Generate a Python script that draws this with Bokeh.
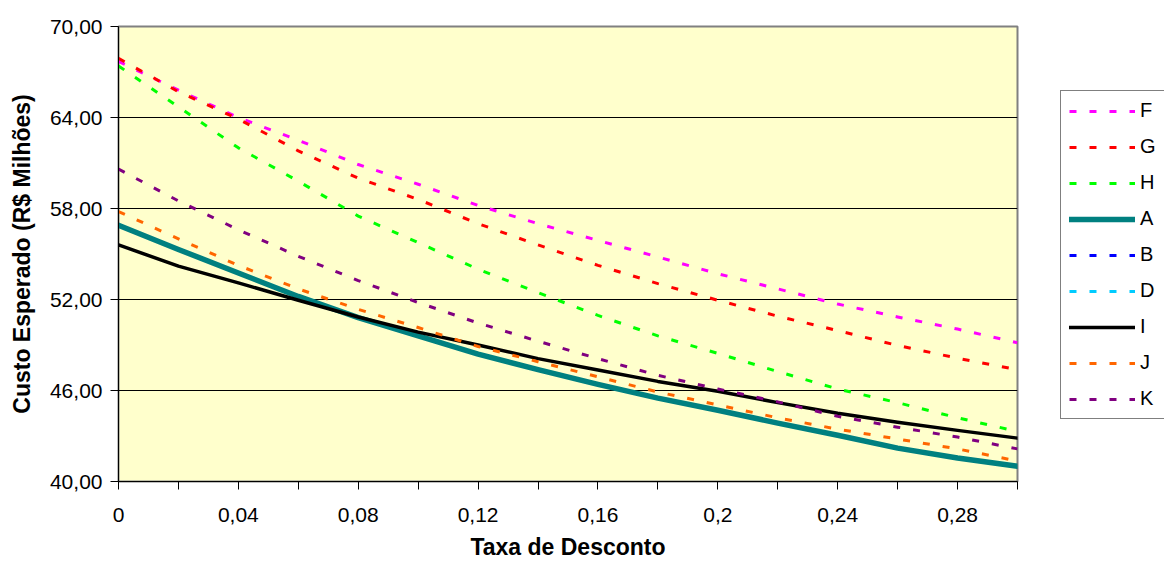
from bokeh.plotting import figure
from bokeh.layouts import row
from bokeh.models import (FixedTicker, Legend, LegendItem, Range1d,
                          CustomJSTickFormatter)
from bokeh.embed import file_html
from bokeh.resources import INLINE

nan = float("nan")

# ---- data -------------------------------------------------------------
taxa = [0.00, 0.02, 0.04, 0.06, 0.08, 0.10, 0.12, 0.14,
        0.16, 0.18, 0.20, 0.22, 0.24, 0.26, 0.28, 0.30]

F = [67.7, 65.8, 64.0, 62.5, 60.9, 59.6, 58.2, 57.0,
     55.9, 54.8, 53.7, 52.7, 51.7, 50.85, 50.05, 49.15]
G = [67.9, 65.7, 63.9, 61.8, 60.0, 58.6, 57.0, 55.6,
     54.25, 53.05, 51.95, 50.9, 49.95, 48.97, 48.13, 47.37]
H = [67.4, 64.7, 62.0, 59.8, 57.5, 55.75, 54.0, 52.45,
     50.95, 49.6, 48.45, 47.25, 46.1, 45.2, 44.2, 43.3]
A = [56.9, 55.3, 53.75, 52.2, 50.8, 49.6, 48.4, 47.38,
     46.4, 45.5, 44.7, 43.85, 43.05, 42.2, 41.55, 41.0]
# B and D appear only in the legend (no visible line in the chart)
B = [nan, nan, nan, nan, nan, nan, nan, nan,
     nan, nan, nan, nan, nan, nan, nan, nan]
D = [nan, nan, nan, nan, nan, nan, nan, nan,
     nan, nan, nan, nan, nan, nan, nan, nan]
I = [55.6, 54.2, 53.1, 51.95, 50.85, 49.85, 49.0, 48.1,
     47.35, 46.6, 45.95, 45.2, 44.5, 43.9, 43.37, 42.86]
J = [57.8, 56.0, 54.25, 52.7, 51.35, 50.15, 48.9, 47.9,
     46.9, 45.9, 45.05, 44.2, 43.45, 42.8, 42.15, 41.35]
K = [60.6, 58.5, 56.6, 54.85, 53.25, 51.8, 50.45, 49.25,
     48.1, 47.0, 46.1, 45.25, 44.3, 43.58, 42.93, 42.15]

series_names = ["F", "G", "H", "A", "B", "D", "I", "J", "K"]
series_values = [F, G, H, A, B, D, I, J, K]
series_colors = ["#FF00FF", "#FF0000", "#00FF00", "#008080", "#0000FF",
                 "#00CCFF", "#000000", "#FF6600", "#800080"]
series_dashed = [True, True, True, False, True, True, False, True, True]
series_widths = [3, 3, 3, 5.5, 3, 3, 3.5, 3, 3]

x_major = [0.00, 0.04, 0.08, 0.12, 0.16, 0.20, 0.24, 0.28]
x_minor = [0.02, 0.06, 0.10, 0.14, 0.18, 0.22, 0.26, 0.30]
y_ticks = [40, 46, 52, 58, 64, 70]

FONT = "Liberation Sans"


def style_of(dashed):
    return dict(line_dash="7 13" if dashed else "solid",
                line_cap="butt" if dashed else "round",
                line_join="round")


# ---- main figure ------------------------------------------------------
p = figure(width=1060, height=565, output_backend="svg", toolbar_location=None,
           x_range=Range1d(0, 0.30), y_range=Range1d(40, 70),
           min_border_left=118, min_border_right=43,
           min_border_top=26, min_border_bottom=84)
p.background_fill_color = "#FFFFCC"
p.border_fill_color = "white"
p.outline_line_color = "#808080"
p.outline_line_width = 2

p.xgrid.visible = False
p.ygrid.ticker = FixedTicker(ticks=y_ticks)
p.ygrid.grid_line_color = "black"
p.ygrid.grid_line_width = 1

xa = p.xaxis[0]
xa.ticker = FixedTicker(ticks=x_major, minor_ticks=x_minor)
xa.formatter = CustomJSTickFormatter(code="""
var v = Math.round(tick * 100) / 100;
return v.toString().replace('.', ',');
""")
xa.axis_label = "Taxa de Desconto"
for ax in (p.xaxis[0], p.yaxis[0]):
    ax.axis_line_color = "black"
    ax.axis_line_width = 1
    ax.major_tick_line_color = "black"
    ax.minor_tick_line_color = "black"
    ax.major_tick_in = 0
    ax.major_tick_out = 8
    ax.major_label_text_font = FONT
    ax.major_label_text_font_size = "21px"
    ax.major_label_text_color = "black"
    ax.axis_label_text_font = FONT
    ax.axis_label_text_font_size = "23px"
    ax.axis_label_text_font_style = "bold"
    ax.axis_label_text_color = "black"
xa.minor_tick_in = 0
xa.minor_tick_out = 8
xa.major_label_standoff = 18
xa.axis_label_standoff = 9

ya = p.yaxis[0]
ya.ticker = FixedTicker(ticks=y_ticks, minor_ticks=[])
ya.formatter = CustomJSTickFormatter(code="""
return tick.toFixed(2).replace('.', ',');
""")
ya.axis_label = "Custo Esperado (R$ Milhões)"
ya.major_label_standoff = 8
ya.axis_label_standoff = 12

for name, vals, col, dashed, w in zip(series_names, series_values, series_colors,
                                      series_dashed, series_widths):
    p.line(taxa, vals, line_color=col, line_width=w, **style_of(dashed))

# ---- legend panel (separate narrow figure to the right) ---------------
lg = figure(width=104, height=565, output_backend="svg", toolbar_location=None,
            x_range=Range1d(0, 1), y_range=Range1d(0, 1),
            x_axis_location=None, y_axis_location=None,
            min_border_left=0, min_border_right=0,
            min_border_top=26, min_border_bottom=84)
lg.grid.visible = False
lg.outline_line_color = None
lg.background_fill_color = "white"
lg.border_fill_color = "white"

items = []
for name, vals, col, dashed, w in zip(series_names, series_values, series_colors,
                                      series_dashed, series_widths):
    # same series on this panel's own (non-overlapping) scale:
    # only the legend samples are visible here
    r = lg.line(taxa, vals, line_color=col, line_width=w, **style_of(dashed))
    items.append(LegendItem(label=name, renderers=[r]))

legend = Legend(items=items, location=(0, 62))
legend.border_line_color = "black"
legend.border_line_width = 1
legend.background_fill_color = "white"
legend.background_fill_alpha = 1
legend.label_text_font = FONT
legend.label_text_font_size = "20px"
legend.label_text_color = "black"
legend.glyph_width = 66
legend.glyph_height = 20
legend.label_height = 20
legend.spacing = 13
legend.padding = 8
legend.margin = 0
legend.label_standoff = 5
lg.add_layout(legend, "center")

layout = row(p, lg)
open("out.html", "w").write(file_html(layout, INLINE))
